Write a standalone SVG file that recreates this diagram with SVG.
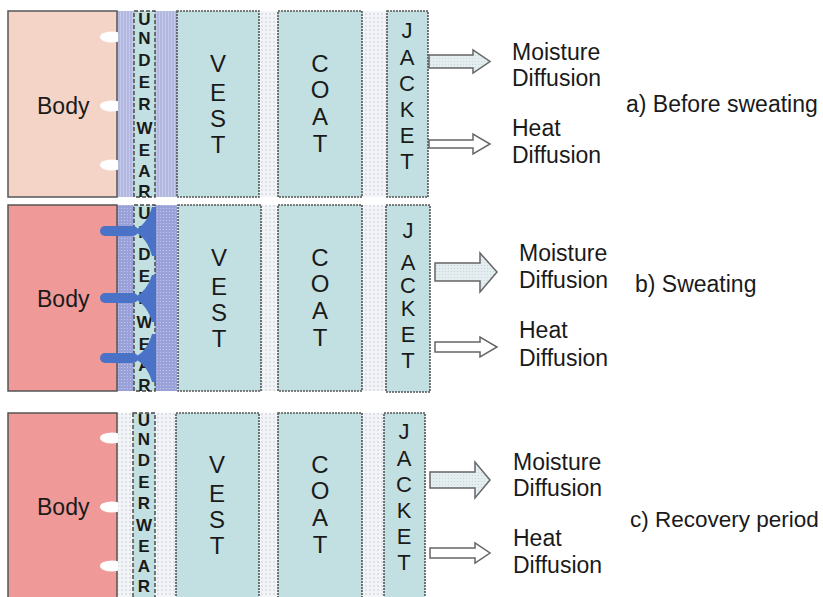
<svg xmlns="http://www.w3.org/2000/svg" width="823" height="597" viewBox="0 0 823 597">
<defs>
<pattern id="dots" width="4" height="4" patternUnits="userSpaceOnUse"><rect width="4" height="4" fill="#f3f4f8"/><circle cx="2" cy="2" r="0.8" fill="#c4c7d3"/></pattern>
<pattern id="stripes" width="3" height="4" patternUnits="userSpaceOnUse"><rect width="3" height="4" fill="#b3b8e1"/><rect width="1" height="4" fill="#c6caea"/></pattern>
<pattern id="hatch" width="3" height="3" patternUnits="userSpaceOnUse"><rect width="3" height="3" fill="#9aa1d9"/><circle cx="1.5" cy="1.5" r="0.6" fill="#c9ccee"/></pattern>
<pattern id="mdots" width="3" height="3" patternUnits="userSpaceOnUse"><rect width="3" height="3" fill="#e4eef0"/><circle cx="1.5" cy="1.5" r="0.6" fill="#c5d4d8"/></pattern>
<clipPath id="clipA"><rect x="0" y="0" width="118" height="597"/></clipPath>
</defs>
<style>
.body{stroke:#555;stroke-width:1.5}
.bodyA{fill:#f4d4c6}
.bodyB{fill:#ef9a98}
.layer{fill:#c2e0e1;stroke:#555;stroke-width:1.6;stroke-dasharray:2 1}
.uw{fill:#c2e0e1;stroke:#444;stroke-width:1.4;stroke-dasharray:4 2}
.t{font-family:"Liberation Sans",Arial,sans-serif;fill:#1a1a1a}
.big{font-size:23px}
.lt{font-size:24px;text-anchor:middle}
.jt{font-size:22px;text-anchor:middle}
.ut{font-size:17px;font-weight:bold;text-anchor:middle}
.bump{fill:#ffffff}
.sweat{fill:#4a72c6}
.arr{stroke:#666;stroke-width:1.5}
.moist{fill:url(#mdots)}
.heat{fill:#ffffff}
</style>

<!-- Panel a -->
<g id="gaps-a">
<rect x="117" y="11" width="60" height="186" fill="url(#stripes)"/>
<rect x="259" y="11" width="19" height="186" fill="url(#dots)"/>
<rect x="362" y="11" width="25" height="186" fill="url(#dots)"/>
</g>
<g id="body-a">
<rect class="body bodyA" x="8" y="11" width="109" height="186"/>
<g clip-path="url(#clipA)">
<ellipse class="bump" cx="112" cy="37" rx="12" ry="5.5"/>
<ellipse class="bump" cx="112" cy="106" rx="12" ry="5.5"/>
<ellipse class="bump" cx="112" cy="165" rx="12" ry="5.5"/>
</g>
<text class="t big" x="37" y="114">Body</text>
</g>
<g id="underwear-a">
<rect class="uw" x="134" y="11" width="21" height="186"/>
<text class="t ut" x="144.5" y="25">U</text>
<text class="t ut" x="144.5" y="44">N</text>
<text class="t ut" x="144.5" y="66">D</text>
<text class="t ut" x="144.5" y="88">E</text>
<text class="t ut" x="144.5" y="110">R</text>
<text class="t ut" x="144.5" y="134">W</text>
<text class="t ut" x="144.5" y="156">E</text>
<text class="t ut" x="144.5" y="177">A</text>
<text class="t ut" x="144.5" y="197">R</text>
</g>
<g id="vest-a">
<rect class="layer" x="177" y="11" width="82" height="186"/>
<text class="t lt" x="218" y="72">V</text>
<text class="t lt" x="218" y="101">E</text>
<text class="t lt" x="218" y="127">S</text>
<text class="t lt" x="218" y="153">T</text>
</g>
<g id="coat-a">
<rect class="layer" x="278" y="11" width="84" height="186"/>
<text class="t lt" x="320" y="72">C</text>
<text class="t lt" x="320" y="98">O</text>
<text class="t lt" x="320" y="125">A</text>
<text class="t lt" x="320" y="152">T</text>
</g>
<g id="jacket-a">
<rect class="layer" x="387" y="11" width="41" height="186"/>
<text class="t jt" x="407" y="38">J</text>
<text class="t jt" x="407" y="65">A</text>
<text class="t jt" x="407" y="91">C</text>
<text class="t jt" x="407" y="117">K</text>
<text class="t jt" x="407" y="143">E</text>
<text class="t jt" x="407" y="169">T</text>
</g>
<g id="labels-a">
<text class="t big" x="512" y="60">Moisture</text>
<text class="t big" x="512" y="86">Diffusion</text>
<text class="t big" x="512" y="136">Heat</text>
<text class="t big" x="512" y="163">Diffusion</text>
<text class="t big" x="626" y="112">a) Before sweating</text>
</g>

<!-- Panel b -->
<g id="gaps-b">
<rect x="117" y="205" width="60" height="186" fill="url(#hatch)"/>
<rect x="260" y="205" width="18" height="186" fill="url(#dots)"/>
<rect x="362" y="205" width="24" height="186" fill="url(#dots)"/>
</g>
<g id="body-b">
<rect class="body bodyB" x="8" y="205" width="109" height="186"/>
<text class="t big" x="37" y="307">Body</text>
</g>
<g id="underwear-b">
<rect class="uw" x="134" y="205" width="21" height="186"/>
<text class="t ut" x="144.5" y="219">U</text>
<text class="t ut" x="144.5" y="238">N</text>
<text class="t ut" x="144.5" y="260">D</text>
<text class="t ut" x="144.5" y="282">E</text>
<text class="t ut" x="144.5" y="304">R</text>
<text class="t ut" x="144.5" y="328">W</text>
<text class="t ut" x="144.5" y="350">E</text>
<text class="t ut" x="144.5" y="371">A</text>
<text class="t ut" x="144.5" y="391">R</text>
</g>
<g id="sweat-b">
<rect class="sweat" x="100" y="226" width="38" height="10" rx="5"/>
<path class="sweat" d="M133,231 Q147,225 152,207 L156,207 L156,256 L152,256 Q147,237 133,231 Z"/>
<rect class="sweat" x="100" y="293" width="38" height="10" rx="5"/>
<path class="sweat" d="M133,298 Q147,292 152,275 L156,275 L156,322 L152,322 Q147,304 133,298 Z"/>
<rect class="sweat" x="100" y="353" width="38" height="10" rx="5"/>
<path class="sweat" d="M133,358 Q147,352 152,334 L156,334 L156,382 L152,382 Q147,364 133,358 Z"/>
</g>
<g id="vest-b">
<rect class="layer" x="178" y="205" width="83" height="186"/>
<text class="t lt" x="219" y="266">V</text>
<text class="t lt" x="219" y="295">E</text>
<text class="t lt" x="219" y="321">S</text>
<text class="t lt" x="219" y="347">T</text>
</g>
<g id="coat-b">
<rect class="layer" x="278" y="205" width="84" height="186"/>
<text class="t lt" x="320" y="266">C</text>
<text class="t lt" x="320" y="292">O</text>
<text class="t lt" x="320" y="319">A</text>
<text class="t lt" x="320" y="346">T</text>
</g>
<g id="jacket-b">
<rect class="layer" x="386" y="205" width="44" height="187"/>
<text class="t jt" x="408" y="238">J</text>
<text class="t jt" x="408" y="270">A</text>
<text class="t jt" x="408" y="293">C</text>
<text class="t jt" x="408" y="316">K</text>
<text class="t jt" x="408" y="342">E</text>
<text class="t jt" x="408" y="368">T</text>
</g>
<g id="labels-b">
<text class="t big" x="519" y="261">Moisture</text>
<text class="t big" x="519" y="288">Diffusion</text>
<text class="t big" x="519" y="338">Heat</text>
<text class="t big" x="519" y="366">Diffusion</text>
<text class="t big" x="635" y="292">b) Sweating</text>
</g>

<!-- Panel c -->
<g id="gaps-c">
<rect x="117" y="413" width="60" height="184" fill="url(#dots)"/>
<rect x="259" y="413" width="19" height="184" fill="url(#dots)"/>
<rect x="362" y="413" width="22" height="184" fill="url(#dots)"/>
</g>
<g id="body-c">
<rect class="body bodyB" x="8" y="413" width="109" height="190"/>
<g clip-path="url(#clipA)">
<ellipse class="bump" cx="112" cy="438" rx="12" ry="5.5"/>
<ellipse class="bump" cx="112" cy="507" rx="12" ry="5.5"/>
<ellipse class="bump" cx="112" cy="566" rx="12" ry="5.5"/>
</g>
<text class="t big" x="37" y="515">Body</text>
</g>
<g id="underwear-c">
<rect class="uw" x="133" y="413" width="22" height="190"/>
<text class="t ut" x="144" y="426">U</text>
<text class="t ut" x="144" y="445">N</text>
<text class="t ut" x="144" y="466">D</text>
<text class="t ut" x="144" y="488">E</text>
<text class="t ut" x="144" y="509">R</text>
<text class="t ut" x="144" y="531">W</text>
<text class="t ut" x="144" y="552">E</text>
<text class="t ut" x="144" y="572">A</text>
<text class="t ut" x="144" y="592">R</text>
</g>
<g id="vest-c">
<rect class="layer" x="176" y="413" width="83" height="190"/>
<text class="t lt" x="217" y="473">V</text>
<text class="t lt" x="217" y="502">E</text>
<text class="t lt" x="217" y="528">S</text>
<text class="t lt" x="217" y="554">T</text>
</g>
<g id="coat-c">
<rect class="layer" x="278" y="413" width="84" height="190"/>
<text class="t lt" x="320" y="473">C</text>
<text class="t lt" x="320" y="499">O</text>
<text class="t lt" x="320" y="526">A</text>
<text class="t lt" x="320" y="553">T</text>
</g>
<g id="jacket-c">
<rect class="layer" x="384" y="413" width="41" height="190"/>
<text class="t jt" x="404" y="439">J</text>
<text class="t jt" x="404" y="466">A</text>
<text class="t jt" x="404" y="492">C</text>
<text class="t jt" x="404" y="518">K</text>
<text class="t jt" x="404" y="544">E</text>
<text class="t jt" x="404" y="570">T</text>
</g>
<g id="labels-c">
<text class="t big" x="513" y="470">Moisture</text>
<text class="t big" x="513" y="496">Diffusion</text>
<text class="t big" x="513" y="546">Heat</text>
<text class="t big" x="513" y="573">Diffusion</text>
<text class="t" style="font-size:22.5px" x="630" y="527">c) Recovery period</text>
</g>

<g id="connectors">
<path class="arr moist" d="M429,55 L473,55 L473,50 L490,61.5 L473,73 L473,68 L429,68 Z"/>
<path class="arr heat" d="M429,140 L473,140 L473,134 L490,144 L473,154 L473,148 L429,148 Z"/>
<path class="arr moist" d="M435,263 L480,263 L480,253 L497,272 L480,292 L480,281 L435,281 Z"/>
<path class="arr heat" d="M435,342 L480,342 L480,337 L497,347 L480,357 L480,352 L435,352 Z"/>
<path class="arr moist" d="M430,472 L475,472 L475,462 L490,480 L475,498 L475,488 L430,488 Z"/>
<path class="arr heat" d="M430,548 L475,548 L475,543 L490,553 L475,563 L475,558 L430,558 Z"/>
</g>
</svg>
